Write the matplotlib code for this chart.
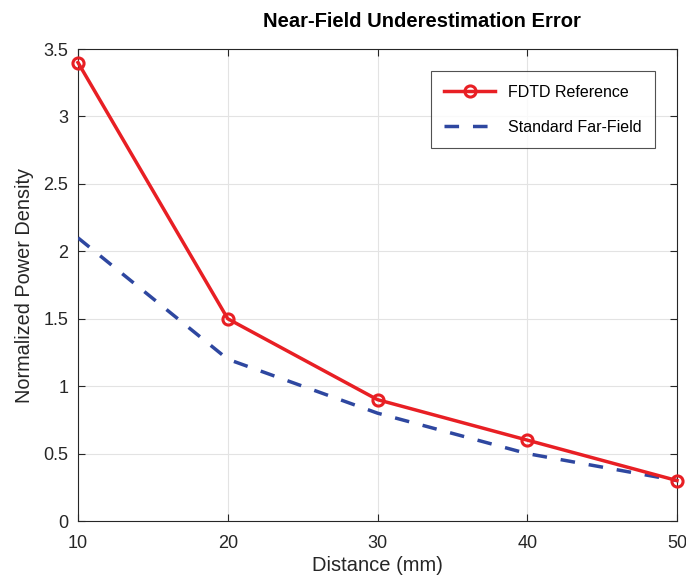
import matplotlib.pyplot as plt

distance = [10, 20, 30, 40, 50]
fdtd_ref = [3.4, 1.5, 0.9, 0.6, 0.3]
far_field = [2.1, 1.2, 0.8, 0.5, 0.3]
x_ticks = [10, 20, 30, 40, 50]
y_ticks = [0, 0.5, 1, 1.5, 2, 2.5, 3, 3.5]
y_ticklabels = ["0", "0.5", "1", "1.5", "2", "2.5", "3", "3.5"]

plt.rcParams['font.family'] = ['Liberation Sans', 'DejaVu Sans']

fig = plt.figure(figsize=(6.86, 5.77), dpi=100)
ax = fig.add_axes([0.1137, 0.097, 0.8732, 0.818])

ax.plot(distance, far_field, '--', color='#2e47a0', linewidth=2.5,
        dashes=(4.2, 4.0), label='Standard Far-Field', zorder=3)
ax.plot(distance, fdtd_ref, '-o', color='#e81f24', linewidth=2.5,
        markersize=8, markerfacecolor='none', markeredgewidth=2.2,
        label='FDTD Reference', zorder=4, clip_on=False)

ax.set_xlim(10, 50)
ax.set_ylim(0, 3.5)
ax.set_xticks(x_ticks)
ax.set_yticks(y_ticks)
ax.set_yticklabels(y_ticklabels)
ax.tick_params(direction='in', top=True, right=True, labelsize=13,
               length=5, width=0.8, colors='#262626')
ax.tick_params(axis='x', pad=10)
ax.tick_params(axis='y', pad=7)
ax.grid(True, color='#e3e3e3', linewidth=0.8)
ax.set_axisbelow(True)
for s in ax.spines.values():
    s.set_color('#262626')
    s.set_linewidth(0.8)

ax.set_xlabel('Distance (mm)', fontsize=14.5, color='#262626', labelpad=3)
ax.set_ylabel('Normalized Power Density', fontsize=14.3, color='#262626', labelpad=7)
fig.text(0.615, 0.953, 'Near-Field Underestimation Error', fontsize=14.5,
         fontweight='bold', ha='center', va='baseline',
         family=['Liberation Sans Narrow', 'Liberation Sans'])

handles, labels = ax.get_legend_handles_labels()
leg = ax.legend(handles[::-1], labels[::-1], loc='upper right',
                bbox_to_anchor=(0.964, 0.953), fontsize=11.5, frameon=True,
                fancybox=False, edgecolor='#262626', borderpad=0.85,
                labelspacing=1.25, handlelength=3.2, handletextpad=0.8,
                borderaxespad=0)
leg.get_frame().set_linewidth(0.8)

fig.savefig('out.png', dpi=100)
